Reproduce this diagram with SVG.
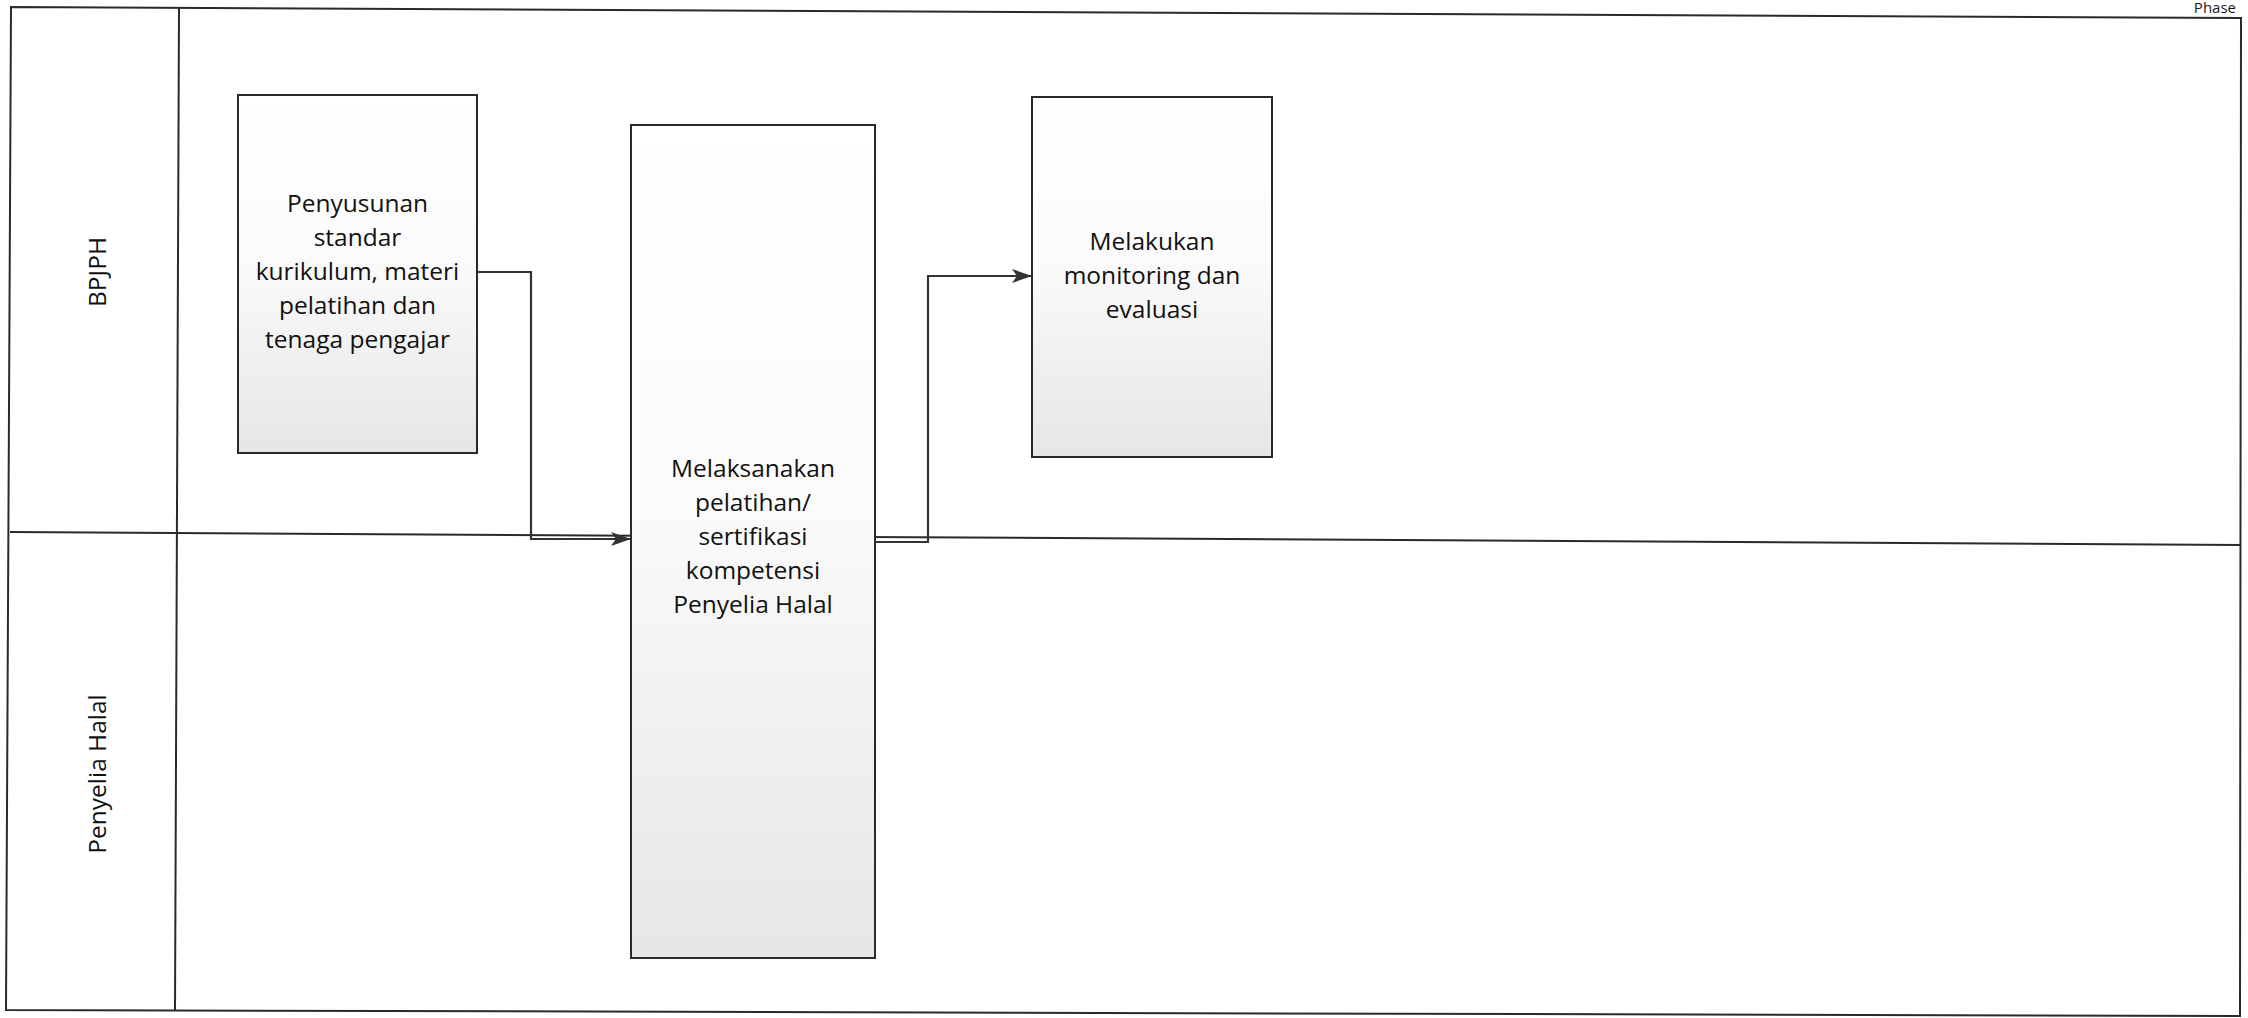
<svg xmlns="http://www.w3.org/2000/svg" width="2248" height="1018" viewBox="0 0 2248 1018">
<style>
.frame{fill:none;stroke:#2a2a2a;stroke-width:2}
.node{fill:url(#nodeFill);stroke:#2a2a2a;stroke-width:2}
.lbl{font-family:"Open Sans","Liberation Sans",sans-serif;font-size:24.5px;fill:#111;text-anchor:middle}
.conn{fill:none;stroke:#333;stroke-width:2.2}
</style>
<defs>
<linearGradient id="nodeFill" x1="0" y1="0" x2="0" y2="1">
<stop offset="0" stop-color="#ffffff"/>
<stop offset="0.45" stop-color="#fbfbfb"/>
<stop offset="1" stop-color="#e6e6e6"/>
</linearGradient>
<marker id="arr" markerUnits="userSpaceOnUse" markerWidth="20" markerHeight="14" refX="19" refY="7" orient="auto">
<path d="M0,0 L20,7 L0,14 L5,7 Z" fill="#333"/>
</marker>
</defs>
<rect width="2248" height="1018" fill="#ffffff"/>
<g id="pool">
<path class="frame" d="M11,7 L2241,18 L2240,1016 L6,1010 Z"/>
<line class="frame" x1="179" y1="8" x2="175" y2="1011"/>
<line class="frame" x1="10" y1="532" x2="2241" y2="545"/>
<text x="2236" y="13" style="font-family:'Open Sans','Liberation Sans',sans-serif;font-size:15px;fill:#1a1a1a;text-anchor:end">Phase</text>
</g>
<g id="lane-bpjph">
<text class="lbl" transform="translate(106,272) rotate(-90)">BPJPH</text>
</g>
<g id="lane-penyelia">
<text class="lbl" transform="translate(106,774) rotate(-90)">Penyelia Halal</text>
</g>
<g id="node1">
<rect class="node" x="238" y="95" width="239" height="358"/>
<text class="lbl"><tspan x="357.5" y="212">Penyusunan</tspan><tspan x="357.5" y="246">standar</tspan><tspan x="357.5" y="280">kurikulum, materi</tspan><tspan x="357.5" y="314">pelatihan dan</tspan><tspan x="357.5" y="348">tenaga pengajar</tspan></text>
</g>
<g id="node2">
<rect class="node" x="631" y="125" width="244" height="833"/>
<text class="lbl"><tspan x="753" y="477">Melaksanakan</tspan><tspan x="753" y="511">pelatihan/</tspan><tspan x="753" y="545">sertifikasi</tspan><tspan x="753" y="579">kompetensi</tspan><tspan x="753" y="613">Penyelia Halal</tspan></text>
</g>
<g id="node3">
<rect class="node" x="1032" y="97" width="240" height="360"/>
<text class="lbl"><tspan x="1152" y="250">Melakukan</tspan><tspan x="1152" y="284">monitoring dan</tspan><tspan x="1152" y="318">evaluasi</tspan></text>
</g>
<g id="connectors">
<path class="conn" d="M477,272 H531 V539 H630" marker-end="url(#arr)"/>
<path class="conn" d="M875,542 H928 V276 H1031" marker-end="url(#arr)"/>
</g>
</svg>
